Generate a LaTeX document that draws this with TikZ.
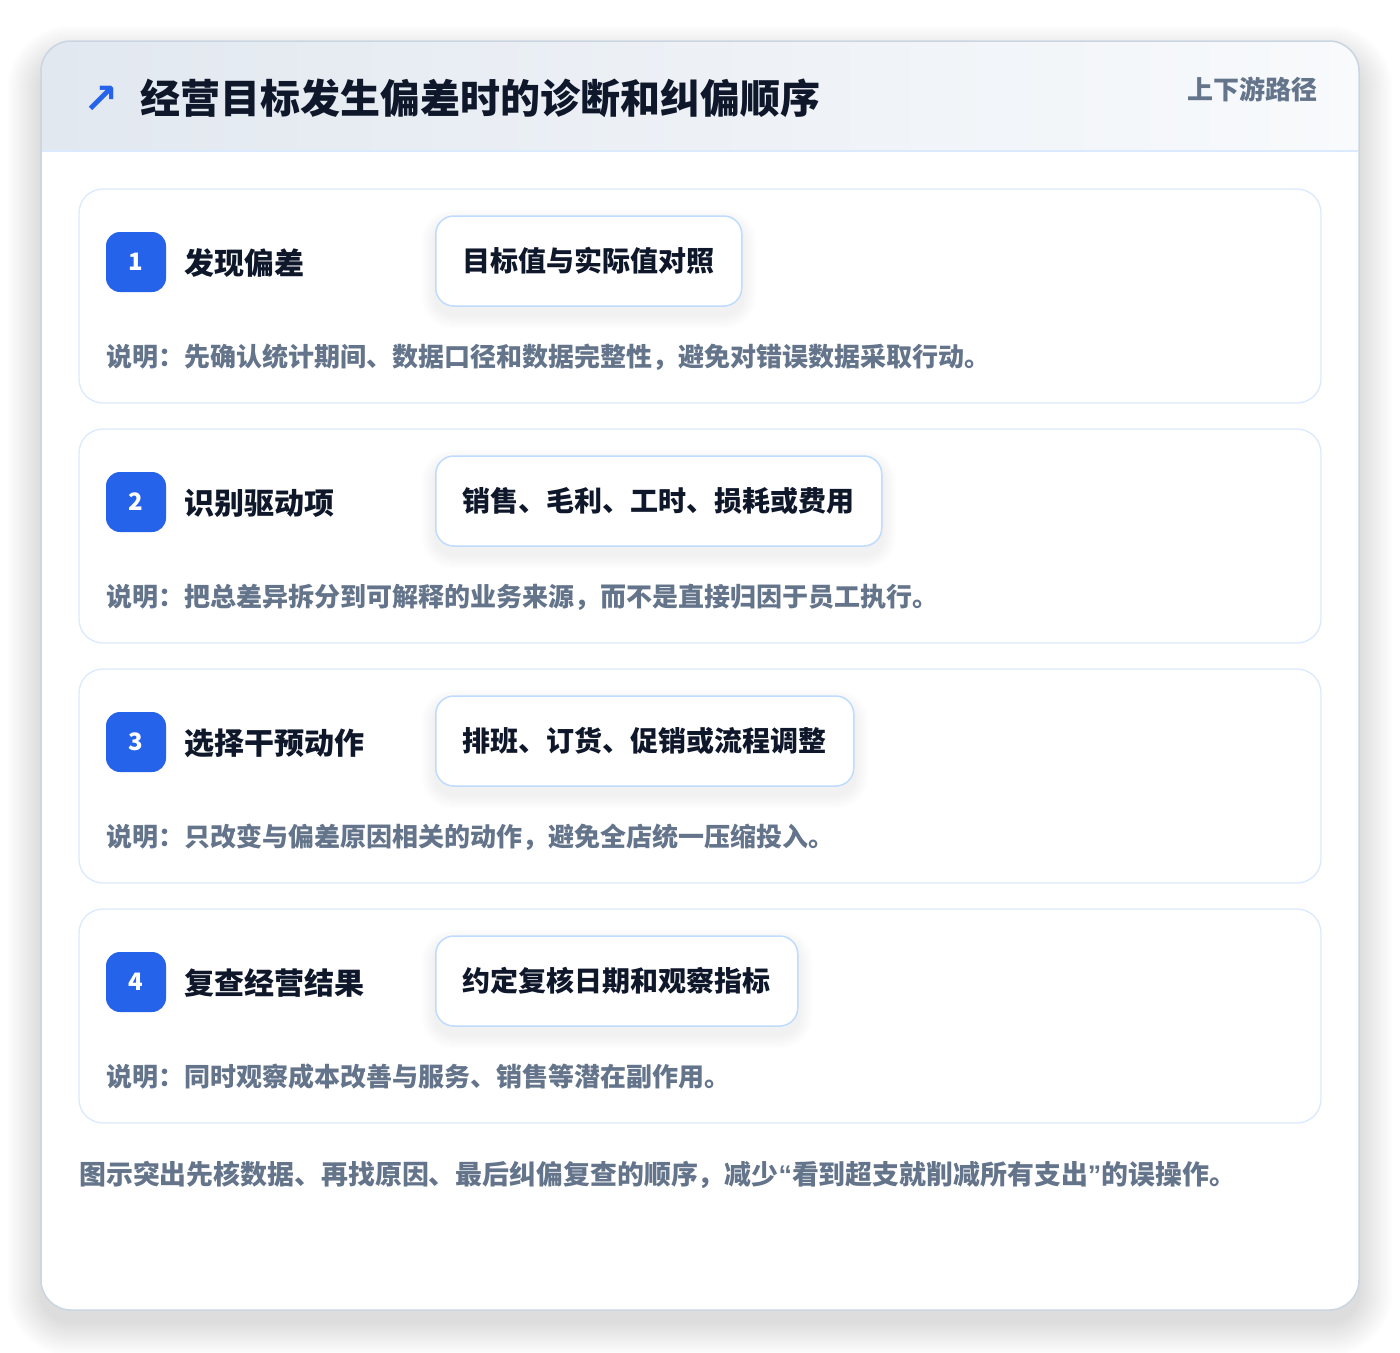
\documentclass[tikz,border=0pt]{standalone}
\usepackage{fontspec}
\setmainfont{Noto Sans CJK SC}
\newfontfamily\symfont{DejaVu Sans}
\newfontfamily\quotefont{Liberation Sans}
\newcommand{\myopenq}{{\quotefont “}}
\newcommand{\mycloseq}{{\quotefont ”}}
\definecolor{badgeblue}{HTML}{2563EB}
\definecolor{titledark}{HTML}{0F172A}
\definecolor{descgray}{HTML}{64748B}
\definecolor{cardline}{HTML}{DBEAFE}
\definecolor{chipline}{HTML}{BFDBFE}
\definecolor{outerline}{HTML}{CBD5E1}
\definecolor{headl}{HTML}{E2E8F0}
\definecolor{headr}{HTML}{F8FAFC}
\definecolor{shadowc}{HTML}{1E293B}
\tikzset{
  fsz/.style={font=\bfseries\fontsize{#1}{#1}\selectfont},
  stepcard/.style={draw=cardline, line width=1.3pt, fill=white, rounded corners=24pt},
  badge/.style={fill=badgeblue, rounded corners=14pt, minimum size=60pt, inner sep=0pt, text=white, fsz=24},
  steptitle/.style={anchor=west, inner sep=0pt, text=titledark, fsz=30},
  chip/.style={draw=chipline, line width=1.5pt, fill=white, rounded corners=18pt, minimum height=90pt,
    inner xsep=27pt, anchor=west, text=titledark, fsz=28},
  desc/.style={anchor=west, inner sep=0pt, text=descgray, fsz=26},
}
\begin{document}
\begin{tikzpicture}[x=1pt,y=-1pt]
\useasboundingbox[fill=white] (0,0) rectangle (1400,1352);
% outer card shadow
\foreach \k in {1,...,34}{
  \fill[shadowc, opacity=0.0038, rounded corners={30pt+\k pt}]
    ({41-\k},{41-\k+18}) rectangle ({1359+\k},{1310+\k+12});
}
\fill[white, rounded corners=30pt] (41,41) rectangle (1359,1310);
\begin{scope}
\clip[rounded corners=30pt] (41,41) rectangle (1359,1310);
\shade[left color=headl, right color=headr] (41,41) rectangle (1359,151);
\end{scope}
\draw[cardline, line width=1.5pt] (42,151) -- (1358,151);
\draw[outerline, line width=1.5pt, rounded corners=30pt] (41,41) rectangle (1359,1310);
% header
\node[text=badgeblue, font=\symfont\bfseries\fontsize{42}{42}\selectfont, inner sep=0pt] (arrow) at (101,100) {↗};
\node[anchor=west, inner sep=0pt, text=titledark, fsz=40] (title) at (140,98) {经营目标发生偏差时的诊断和纠偏顺序};
\node[anchor=east, inner sep=0pt, text=descgray, fsz=26] (tag) at (1318,89) {上下游路径};
% steps
\foreach \i/\t/\name/\chiptext/\desctext in {
  1/189/发现偏差/目标值与实际值对照/说明：先确认统计期间、数据口径和数据完整性，避免对错误数据采取行动。,
  2/429/识别驱动项/销售、毛利、工时、损耗或费用/说明：把总差异拆分到可解释的业务来源，而不是直接归因于员工执行。,
  3/669/选择干预动作/排班、订货、促销或流程调整/说明：只改变与偏差原因相关的动作，避免全店统一压缩投入。,
  4/909/复查经营结果/约定复核日期和观察指标/说明：同时观察成本改善与服务、销售等潜在副作用。}{
  \draw[stepcard] (79,\t) rectangle (1321,\t+214);
  \node[badge] (badge\i) at (136,\t+73) {\i};
  \node[steptitle] (title\i) at (184,\t+74) {\name};
  \path node[chip, draw=none, fill=none, text=white] (ghost\i) at (435,\t+72) {\chiptext};
  \foreach \k in {1,...,14}{
    \fill[shadowc, opacity=0.005, rounded corners={18pt+\k pt}]
      ([xshift=-\k pt, yshift={-8pt+\k pt}]ghost\i.north west) rectangle ([xshift=\k pt, yshift={-8pt-\k pt}]ghost\i.south east);
  }
  \node[chip] (chip\i) at (435,\t+72) {\chiptext};
  \node[desc] (desc\i) at (106,\t+168) {\desctext};
}
\node[desc, fsz=26.9] (footer) at (79,1175) {图示突出先核数据、再找原因、最后纠偏复查的顺序，减少\myopenq 看到超支就削减所有支出\mycloseq 的误操作。};
\end{tikzpicture}
\end{document}
